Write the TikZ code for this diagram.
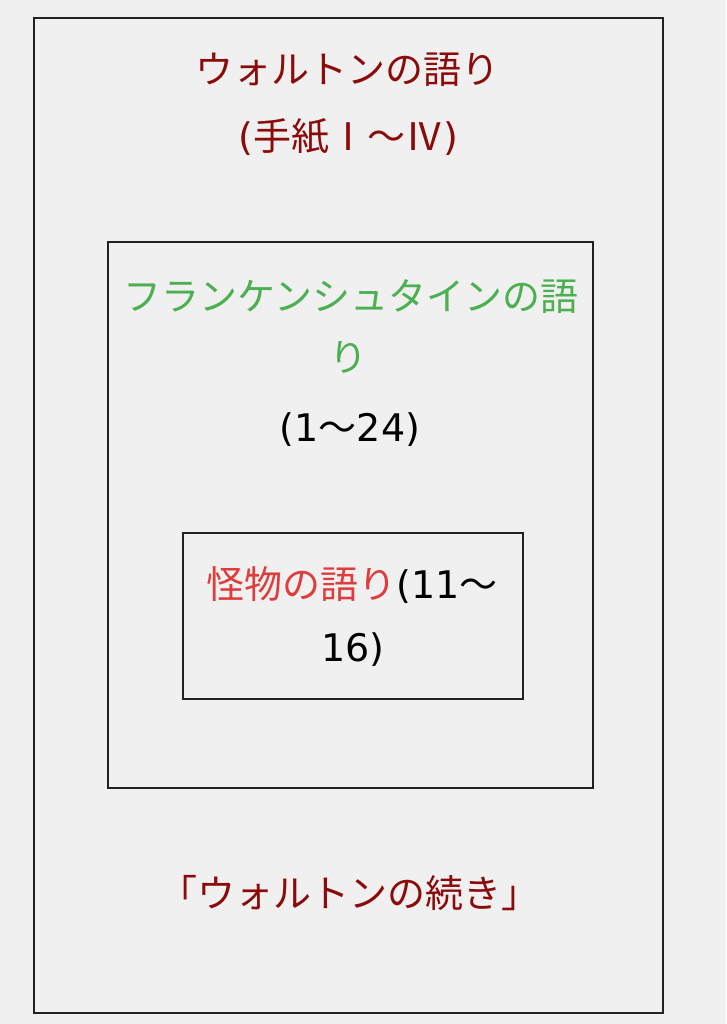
\documentclass[tikz,border=0pt]{standalone}
\usepackage{fontspec}
\setmainfont{Noto Sans CJK JP}
\newfontfamily\latinfont{DejaVu Sans}
\usepackage{xcolor}
\definecolor{waltonred}{HTML}{8B0A0A}
\definecolor{frankgreen}{HTML}{4CAF50}
\definecolor{monsterred}{HTML}{E03C3C}
\definecolor{boxline}{HTML}{222222}
\definecolor{paper}{HTML}{F0F0F0}
\newcommand{\lat}[1]{{\latinfont #1}}
\begin{document}
\begin{tikzpicture}[x=1pt, y=-1pt,
    frame/.style={draw=boxline, line width=2pt},
    bigtext/.style={font=\fontsize{38}{46}\selectfont, inner sep=0pt, anchor=center}]
    % background and margins
    \fill[paper] (0,0) rectangle (726,1024);
    \useasboundingbox (0,0) rectangle (726,1024);

    % Boxes
    \draw[frame] (34,18) rectangle (663,1013);
    \draw[frame] (108,242) rectangle (593,788);
    \draw[frame] (183,533) rectangle (523,699);

    % Walton
    \node[bigtext, waltonred] (walton) at (347,70) {ウォルトンの語り};
    \node[bigtext, waltonred] (letters) at (348,137) {\lat{(}手紙Ⅰ～Ⅳ\lat{)}};

    % Frankenstein
    \node[bigtext, frankgreen] (frank) at (351,297) {フランケンシュタインの語};
    \node[bigtext, frankgreen] (frankb) at (348,357) {り};
    \node[bigtext] (chapters) at (350,430) {\lat{(1}～\lat{24)}};

    % Monster
    \node[bigtext] (monster) at (352,585) {\textcolor{monsterred}{怪物の語り}\lat{(11}～};
    \node[bigtext] (monsterb) at (353,650) {\lat{16)}};

    % Walton continued
    \node[bigtext, waltonred] (waltonend) at (349,893) {「ウォルトンの続き」};
\end{tikzpicture}
\end{document}
